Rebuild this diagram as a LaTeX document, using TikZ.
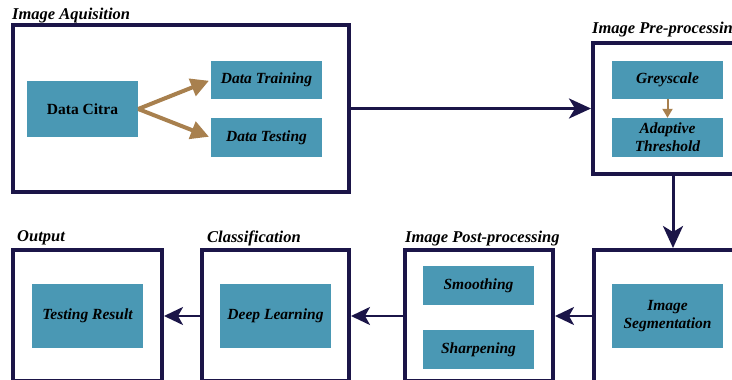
\documentclass[tikz,border=0pt]{standalone}
\usepackage{fontspec}
\setmainfont{Liberation Serif}
\usetikzlibrary{arrows.meta}

\definecolor{navy}{HTML}{1B1548}
\definecolor{boxfill}{HTML}{4A98B4}
\definecolor{tan}{HTML}{A8804E}

\tikzset{
  stage/.style={draw=navy,line width=4pt,fill=white,inner sep=0pt},
  step box/.style={fill=boxfill,inner sep=0pt,minimum width=111pt,align=center,
    text=black,font=\fontsize{15.5}{18}\selectfont\bfseries\itshape},
  stage label/.style={anchor=west,inner sep=0pt,
    font=\fontsize{16.5}{18}\selectfont\bfseries\itshape},
  flow/.style={draw=navy,line width=3pt,-{Stealth[length=22pt,width=20pt,inset=6pt]}},
  back/.style={draw=navy,line width=2.5pt,-{Stealth[length=19pt,width=18pt,inset=5pt]}},
  split/.style={draw=tan,line width=4pt,shorten >=2pt,-{Triangle[length=18pt,width=18pt]}},
}

\begin{document}
\begin{tikzpicture}[x=1pt,y=-1pt]
            \clip (0,0) rectangle (732,380);
            \fill[white] (0,0) rectangle (732,380);

            % stage frames
            \node[stage,minimum width=336pt,minimum height=167pt] (acq) at (181,108.5) {};
            \node[stage,minimum width=152pt,minimum height=131pt] (pre) at (669,108.5) {};
            \node[stage,minimum width=151pt,minimum height=150pt] (seg) at (669.5,325) {};
            \node[stage,minimum width=148pt,minimum height=131pt] (post) at (479,315.5) {};
            \node[stage,minimum width=147pt,minimum height=131pt] (cls) at (275.5,315.5) {};
            \node[stage,minimum width=149pt,minimum height=131pt] (out) at (87.5,315.5) {};

            \node[stage label] (acqlbl) at (12,16) {Image Aquisition};
            \node[stage label] (prelbl) at (592,30) {Image Pre-processing};
            \node[stage label] (postlbl) at (405,239) {Image Post-processing};
            \node[stage label] (clslbl) at (207,238) {Classification};
            \node[stage label] (outlbl) at (17,238) {Output};

            % steps inside each stage
            \node[step box,minimum height=56pt,font=\fontsize{15.5}{18}\selectfont\bfseries] (citra) at (82.5,109) {Data Citra};
            \node[step box,minimum height=38pt] (train) at (266.5,80) {Data Training};
            \node[step box,minimum height=39pt] (test) at (266.5,137.5) {Data Testing};

            \node[step box,minimum height=38pt] (grey) at (667.5,80) {Greyscale};
            \node[step box,minimum height=39pt] (adapt) at (667.5,137.5) {Adaptive\\Threshold};

            \node[step box,minimum height=64pt] (segm) at (667.5,316) {Image\\Segmentation};

            \node[step box,minimum height=39pt] (smooth) at (478.5,285.5) {Smoothing};
            \node[step box,minimum height=39pt] (sharp) at (478.5,349.5) {Sharpening};

            \node[step box,minimum height=64pt] (deep) at (275.5,316) {Deep Learning};
            \node[step box,minimum height=64pt] (result) at (87.5,316) {\raisebox{4pt}{Testing Result}};

            % arrows
            \draw[split] (citra.east) -- (train.west);
            \draw[split] (citra.east) -- (test.west);
            \draw[draw=tan,line width=2pt,-{Triangle[length=9pt,width=10pt]}] (grey.south) -- (adapt.north);

            \draw[flow] (acq.east) -- (pre.west);
            \draw[flow] ([xshift=4pt]pre.south) -- ([xshift=4pt]pre.south |- seg.north);
            \draw[back] (seg.west |- segm) -- (post.east |- segm);
            \draw[back] (post.west |- deep) -- (cls.east |- deep);
            \draw[back] (cls.west |- deep) -- (out.east |- deep);

        \end{tikzpicture}
\end{document}
